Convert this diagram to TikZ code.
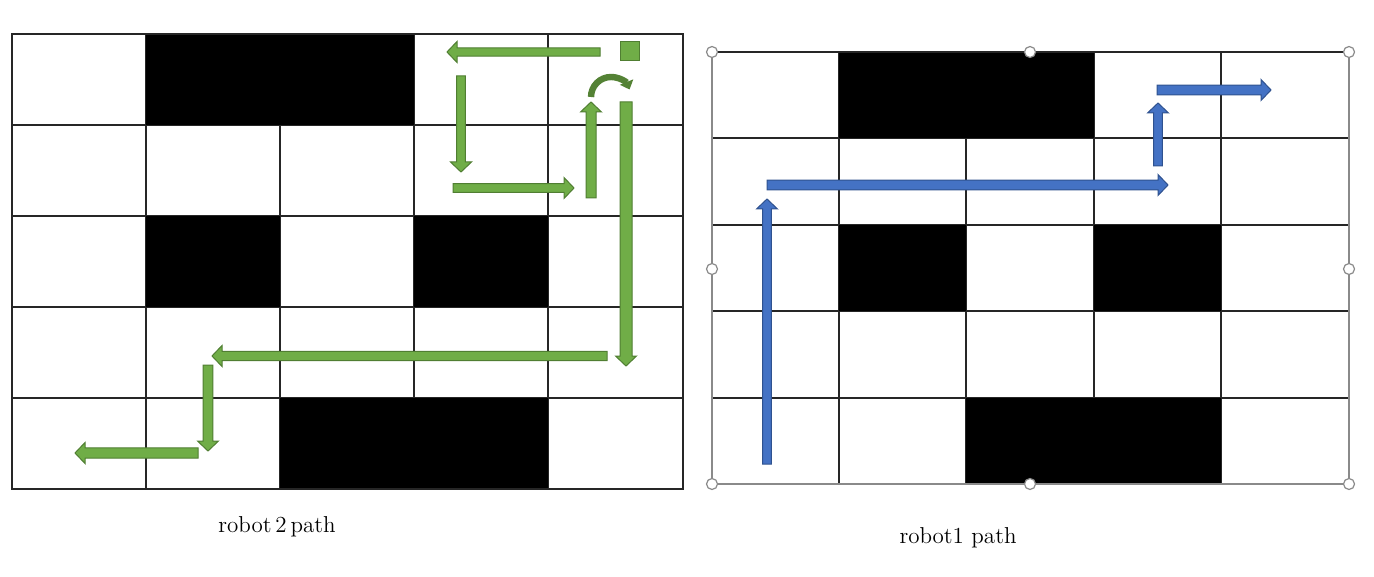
\documentclass[tikz,border=0pt]{standalone}
\usepackage{tikz}
\usetikzlibrary{calc}
\usetikzlibrary{arrows.meta}

\definecolor{gfill}{HTML}{70AD47}
\definecolor{gline}{HTML}{507E32}
\definecolor{gdark}{HTML}{548235}
\definecolor{bfill}{HTML}{4472C4}
\definecolor{bline}{HTML}{2F528F}
\definecolor{framegrey}{HTML}{8A8A8A}

\tikzset{
  gridline/.style = {draw=black!85, line width=0.65pt},
  framesel/.style = {draw=framegrey, line width=0.7pt},
  greenarrow/.style = {fill=gfill, draw=gline, line width=0.5pt},
  bluearrow/.style = {fill=bfill, draw=bline, line width=0.5pt},
  handle/.style = {circle, draw=framegrey, fill=white, line width=0.6pt, minimum size=5.5pt, inner sep=0pt},
  caption/.style = {font=\fontsize{11.5}{14}\selectfont},
}

% block arrow: style, shaft half width, start, tip
\newcommand{\blockarrow}[4]{%
  \coordinate (baS) at #3;
  \coordinate (baE) at #4;
  \coordinate (baH) at ($(baE)!5pt!(baS)$);
  \draw[#1] ($(baS)!#2!90:(baE)$) -- ($(baH)!#2!90:(baE)$) -- ($(baH)!5.25pt!90:(baE)$)
    -- (baE) -- ($(baH)!5.25pt!-90:(baE)$) -- ($(baH)!#2!-90:(baE)$) -- ($(baS)!#2!-90:(baE)$) -- cycle;
}

\begin{document}
\begin{tikzpicture}[x=0.5pt, y=-0.5pt]
    \useasboundingbox (0,0) rectangle (1374,577);

    % robot 2 grid
    \foreach \x in {146,280,414,548}
        \draw[gridline] (\x,34) -- (\x,489);
    \foreach \y in {125,216,307,398}
        \draw[gridline] (12,\y) -- (683,\y);
    \fill (146,34) rectangle (414,125);
    \fill (146,216) rectangle (280,307);
    \fill (414,216) rectangle (548,307);
    \fill (280,398) rectangle (548,489);
    \draw[gridline] (12,34) rectangle (683,489);

    % robot 2 path
    \blockarrow{greenarrow}{2.1pt}{(600,52)}{(447,52)}
    \draw[greenarrow] (620,42) rectangle (639,61);
    \blockarrow{greenarrow}{2.2pt}{(461,76)}{(461,172)}
    \blockarrow{greenarrow}{2.2pt}{(453,188)}{(574,188)}
    \blockarrow{greenarrow}{2.5pt}{(591,198)}{(591,102)}
    \draw[gdark, line width=3.2pt, -{Triangle[width=7pt, length=4pt]}]
        (591,97) arc[start angle=180, end angle=22, radius=10pt];
    \blockarrow{greenarrow}{3pt}{(626,102)}{(626,366)}
    \blockarrow{greenarrow}{2.3pt}{(607,356)}{(212,356)}
    \blockarrow{greenarrow}{2.4pt}{(208,365)}{(208,451)}
    \blockarrow{greenarrow}{2.6pt}{(198,453)}{(75,453)}

    \node[caption] (cap2) at (277,527) {robot\,2\,path};

    % robot 1 grid
    \foreach \x in {839,966,1094,1221}
        \draw[gridline] (\x,52) -- (\x,484);
    \foreach \y in {138,225,311,398}
        \draw[gridline] (712,\y) -- (1349,\y);
    \fill (839,52) rectangle (1094,138);
    \fill (839,225) rectangle (966,311);
    \fill (1094,225) rectangle (1221,311);
    \fill (966,398) rectangle (1221,484);
    \draw[framesel] (712,52) rectangle (1349,484);
    \draw[gridline] (712,52) -- (1349,52);
    \foreach \p [count=\i] in {(712,52),(1030,52),(1349,52),(712,269),(1349,269),(712,484),(1030,484),(1349,484)}
        \node[handle] (h\i) at \p {};

    % robot 1 path
    \blockarrow{bluearrow}{2.2pt}{(767,464)}{(767,199)}
    \blockarrow{bluearrow}{2.4pt}{(767,185)}{(1168,185)}
    \blockarrow{bluearrow}{2.2pt}{(1158,166)}{(1158,103)}
    \blockarrow{bluearrow}{2.4pt}{(1157,90)}{(1271,90)}

    \node[caption] (cap1) at (958,538) {robot1 path};
\end{tikzpicture}
\end{document}
